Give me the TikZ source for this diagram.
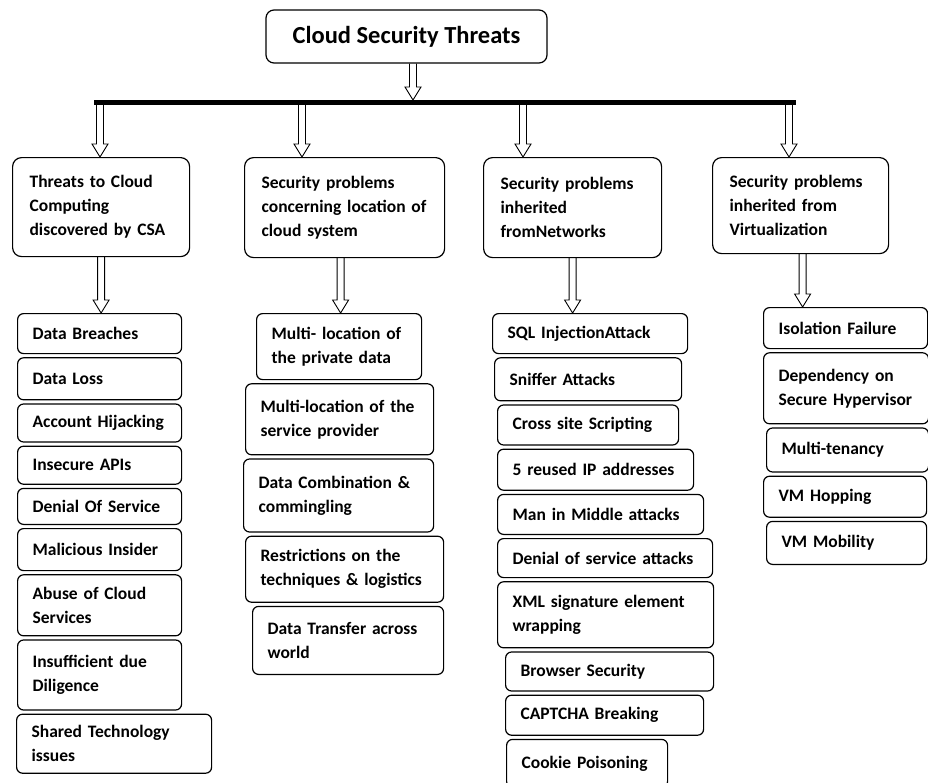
\documentclass[tikz,border=0pt]{standalone}
\usepackage{fontspec}
\setmainfont{Carlito}
\usetikzlibrary{positioning,calc}

\begin{document}
\begin{tikzpicture}[x=1pt, y=-1pt, line width=1.2pt,
  topbox/.style={draw, rounded corners=8pt, minimum width=281pt, minimum height=53pt,
    font=\bfseries\fontsize{24.5}{28}\selectfont},
  groupbox/.style={draw, rounded corners=9pt, align=left, anchor=north west, inner xsep=17pt,
    font=\bfseries\fontsize{17.5}{24}\selectfont},
  leaf/.style={draw, rounded corners=6pt, align=left, anchor=north west, inner xsep=15pt,
    inner ysep=1pt, font=\bfseries\fontsize{17.5}{24}\selectfont},
  under/.style={below=3pt of #1.south west, anchor=north west},
  hollow/.style={draw, line width=0.9pt, to path={let \p1=(\tikztostart), \p2=(\tikztotarget) in
    (\x1-3.5pt,\y1) -- (\x1-3.5pt,\y2+13pt) -- (\x1-8pt,\y2+13pt) -- (\x1,\y2)
    -- (\x1+8pt,\y2+13pt) -- (\x1+3.5pt,\y2+13pt) -- (\x1+3.5pt,\y1)}}]
  \useasboundingbox (0,0) rectangle (928,782);

  \node[topbox] (title) at (406.5,36.5) {Cloud Security Threats};
  \coordinate (barl) at (94,102.5);
  \coordinate (barr) at (796,102.5);
  \coordinate (bartop) at (413,100);
  \draw[line width=4.5pt] (barl) -- (barr);
  \draw[hollow] ([xshift=6.5pt]title.south) to (bartop);

  \node[groupbox, text width=143pt, minimum height=99pt] (csa) at (12,157)
    {Threats to Cloud\\Computing\\discovered by CSA};
  \node[groupbox, text width=166pt, minimum height=100pt] (loc) at (244,157)
    {Security problems\\concerning location of\\cloud system};
  \node[groupbox, text width=144pt, minimum height=100pt] (net) at (483,157)
    {Security problems\\inherited\\fromNetworks};
  \node[groupbox, text width=142pt, minimum height=96pt] (virt) at (712,157)
    {Security problems\\inherited from\\Virtualization};

  \coordinate (d1) at (100,105);
  \coordinate (d2) at (302,105);
  \coordinate (d3) at (523,105);
  \coordinate (d4) at (789,105);
  \draw[hollow] (d1) to (csa.north);
  \draw[hollow] (d2) to (loc.north);
  \draw[hollow] (d3) to (net.north);
  \draw[hollow] (d4) to (virt.north);

  \node[leaf, text width=134pt, minimum height=40pt] (breach) at (17,313) {Data Breaches};
  \node[leaf, under=breach, text width=134pt, minimum height=42pt] (loss) {Data Loss};
  \node[leaf, under=loss, text width=134pt, minimum height=38pt] (hijack) {Account Hijacking};
  \node[leaf, under=hijack, text width=134pt, minimum height=38pt] (apis) {Insecure APIs};
  \node[leaf, under=apis, text width=134pt, minimum height=36pt] (dos) {Denial Of Service};
  \node[leaf, under=dos, text width=134pt, minimum height=42pt] (insider) {Malicious Insider};
  \node[leaf, under=insider, text width=134pt, minimum height=61pt] (abuse) {Abuse of Cloud\\Services};
  \node[leaf, under=abuse, text width=134pt, minimum height=70pt] (diligence) {Insufficient due\\Diligence};
  \node[leaf, under=diligence, xshift=-1pt, text width=165pt, minimum height=59pt] (shared) {Shared Technology\\issues};

  \node[leaf, text width=135pt, minimum height=66pt] (mpriv) at (256,313) {Multi- location of\\the private data};
  \node[leaf, under=mpriv, xshift=-11pt, text width=158pt, minimum height=71pt] (mprov) {Multi-location of the\\service provider};
  \node[leaf, under=mprov, xshift=-2pt, text width=160pt, minimum height=73pt] (comb) {Data Combination \&\\commingling};
  \node[leaf, under=comb, xshift=2pt, text width=168pt, minimum height=66pt] (restr) {Restrictions on the\\techniques \& logistics};
  \node[leaf, under=restr, xshift=7pt, text width=161pt, minimum height=68pt] (transfer) {Data Transfer across\\world};

  \node[leaf, text width=165pt, minimum height=40pt] (sqli) at (492,313) {SQL InjectionAttack};
  \node[leaf, under=sqli, xshift=2pt, text width=157pt, minimum height=43pt] (sniff) {Sniffer Attacks};
  \node[leaf, under=sniff, xshift=3pt, text width=151pt, minimum height=40pt] (xss) {Cross site Scripting};
  \node[leaf, under=xss, text width=166pt, minimum height=41pt] (reip) {5 reused IP addresses};
  \node[leaf, under=reip, text width=176pt, minimum height=40pt] (mitm) {Man in Middle attacks};
  \node[leaf, under=mitm, text width=185pt, minimum height=39pt] (ddos) {Denial of service attacks};
  \node[leaf, under=ddos, text width=186pt, minimum height=66pt] (xmlw) {XML signature element\\wrapping};
  \node[leaf, under=xmlw, xshift=8pt, text width=178pt, minimum height=39pt] (browser) {Browser Security};
  \node[leaf, under=browser, text width=168pt, minimum height=40pt] (captcha) {CAPTCHA Breaking};
  \node[leaf, under=captcha, xshift=1pt, text width=131pt, minimum height=48pt] (cookie) {Cookie Poisoning};

  \node[leaf, text width=134pt, minimum height=41pt] (isol) at (763,307) {Isolation Failure};
  \node[leaf, under=isol, text width=135pt, minimum height=71pt] (hyper) {Dependency on\\Secure Hypervisor};
  \node[leaf, under=hyper, xshift=3pt, text width=132pt, minimum height=44pt] (tenancy) {Multi-tenancy};
  \node[leaf, under=tenancy, xshift=-3pt, text width=133pt, minimum height=41pt] (hop) {VM Hopping};
  \node[leaf, under=hop, xshift=3pt, text width=130pt, minimum height=43pt] (mobility) {VM Mobility};

  \draw[hollow] (csa.south) to (breach.north);
  \draw[hollow] ([xshift=-4pt]loc.south) to (mpriv.north);
  \draw[hollow] (net.south) to (sqli.north);
  \draw[hollow] ([xshift=2pt]virt.south) to (isol.north);
\end{tikzpicture}
\end{document}
